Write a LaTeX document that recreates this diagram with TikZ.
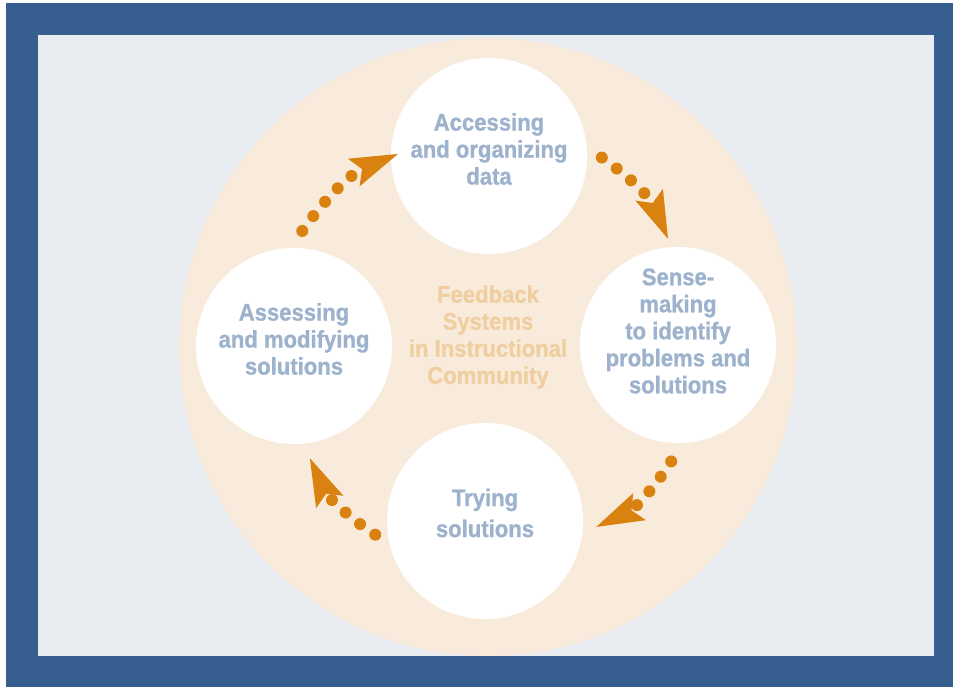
\documentclass[tikz,border=0pt]{standalone}
\usepackage{fontspec}
\setmainfont{Liberation Sans}[FakeStretch=0.92,BoldFeatures={FakeBold=1}]
\usetikzlibrary{arrows.meta,calc}
\definecolor{frameblue}{HTML}{365F8F}
\definecolor{panel}{HTML}{E9ECF1}
\definecolor{peach}{HTML}{F9EBDC}
\definecolor{stageblue}{HTML}{9DB3CD}
\definecolor{tan}{HTML}{EFCFA0}
\definecolor{flowora}{HTML}{D9820F}

\begin{document}
\begin{tikzpicture}[x=1pt,y=1pt,
  stage/.style={circle,fill=white,minimum size=196pt,inner sep=0pt},
  stagetext/.style={align=center,text=stageblue,font=\bfseries\fontsize{24}{27}\selectfont},
  flow/.style={draw=flowora,line width=12pt,line cap=round,dash pattern=on 0pt off 18.5pt,
    -{Stealth[length=48pt,width=30pt,inset=9pt,line width=0pt]},bend left=16}]
  \fill[white] (0,0) rectangle (953,687);
  \useasboundingbox (0,0) rectangle (953,687);
  \fill[frameblue] (6,0) rectangle (953,684);
  \fill[panel] (38,31) rectangle (934,652);

  \begin{scope}
    \clip (38,31) rectangle (934,652);
    \node[circle,fill=peach,minimum size=618pt,inner sep=0pt] (hub) at (488,340) {};
  \end{scope}

  \node[stage] (access) at (489,531) {};
  \node[stage] (sense)  at (678,342) {};
  \node[stage] (trying) at (485,166) {};
  \node[stage] (assess) at (294,341) {};

  \node[stagetext] (access-label) at ([yshift=7]access.center) {Accessing\\and organizing\\data};
  \node[stagetext] (sense-label)  at ([yshift=14]sense.center) {Sense-\\making\\to identify\\problems and\\solutions};
  \node[stagetext] (trying-label) at ([yshift=8]trying.center) {Trying\\[4pt]solutions};
  \node[stagetext] (assess-label) at ([yshift=7]assess.center) {Assessing\\and modifying\\solutions};
  \node[stagetext,text=tan] (hub-label) at ([yshift=10]hub.center) {Feedback\\Systems\\in Instructional\\Community};

  % dotted arrows round the hub
  \coordinate (s1) at ($(hub)+(148:219)$);
  \coordinate (t1) at ($(hub)+(115:213)$);
  \coordinate (s2) at ($(hub)+(59:221)$);
  \coordinate (t2) at ($(hub)+(31:210)$);
  \coordinate (s3) at ($(hub)+(-32:216)$);
  \coordinate (t3) at ($(hub)+(-59:210)$);
  \coordinate (s4) at ($(hub)+(-121:219)$);
  \coordinate (t4) at ($(hub)+(-148:210)$);
  \draw[flow] (s1) to (t1);
  \draw[flow] (s2) to (t2);
  \draw[flow] (s3) to (t3);
  \draw[flow] (s4) to (t4);
\end{tikzpicture}
\end{document}
